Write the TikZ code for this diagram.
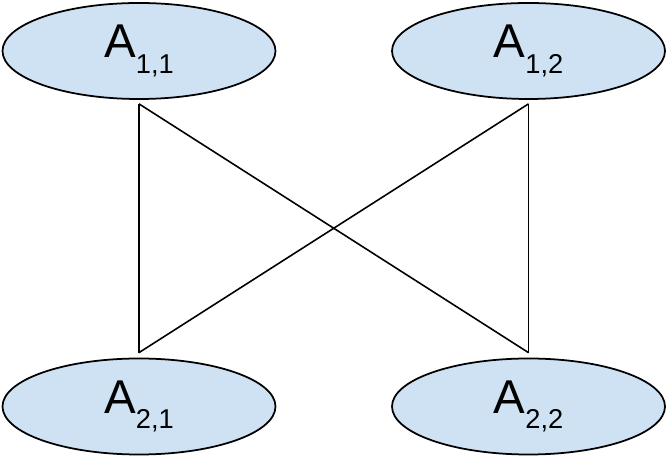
\documentclass[tikz,border=0pt]{standalone}
\usepackage{fontspec}
\setmainfont{Liberation Sans}
\usepackage{tikz}
\usetikzlibrary{shapes.geometric, positioning}
\definecolor{cellblue}{RGB}{207,226,243}
\tikzset{
    cell/.style={ellipse, fill=cellblue, draw, line width=1pt,
    	minimum width=5.46cm, minimum height=1.92cm, inner sep=0pt,
    	font=\fontsize{27}{27}\selectfont}
}
\tikzset{
    every edge/.append style={line width=0.9pt}
}
\newcommand{\Aname}[1]{A\raisebox{-9pt}{\fontsize{15.5}{15.5}\selectfont #1}}

\begin{document}
\begin{tikzpicture}
  \useasboundingbox (0cm, 0cm) rectangle (13.36cm, 9.18cm);
  \node (a11) [cell] at (2.78cm, 8.16cm) {\Aname{1,1}};
  \node (a12) [cell] at (10.57cm, 8.16cm) {\Aname{1,2}};
  \node (a21) [cell] at (2.78cm, 1.05cm) {\Aname{2,1}};
  \node (a22) [cell] at (10.57cm, 1.05cm) {\Aname{2,2}};

  \coordinate [below=0.08cm of a11.south] (p11);
  \coordinate [below=0.08cm of a12.south] (p12);
  \coordinate [above=0.1cm of a21.north] (p21);
  \coordinate [above=0.1cm of a22.north] (p22);

  \draw (p11) edge (p21); \draw (p11) edge (p22);
  \draw (p12) edge (p21); \draw (p12) edge (p22);
\end{tikzpicture}
\end{document}
